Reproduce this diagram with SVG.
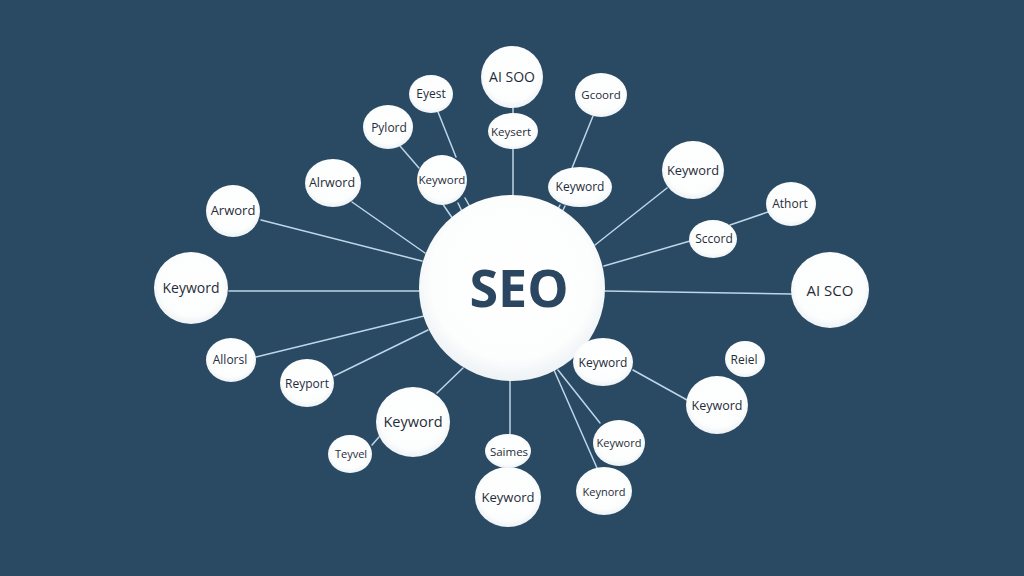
<svg xmlns="http://www.w3.org/2000/svg" width="1024" height="576" viewBox="0 0 1024 576">
<defs>
<radialGradient id="g" cx="50%" cy="45%" r="55%">
<stop offset="0" stop-color="#ffffff"/>
<stop offset="0.8" stop-color="#fcfdfd"/>
<stop offset="1" stop-color="#edf2f5"/>
</radialGradient>
<style>
.n{fill:url(#g);}
.t{font-family:"Open Sans","Noto Sans",sans-serif;fill:#1f2d3a;text-anchor:middle;}
.c line{stroke:#bcd6ea;stroke-width:1.5;stroke-linecap:round;}
</style>
</defs>
<rect width="1024" height="576" fill="#2a4962"/>
<g class="c" id="connectors">
<line x1="513" y1="195" x2="513" y2="149"/>
<line x1="513" y1="108" x2="513" y2="114"/>
<line x1="438" y1="112" x2="456" y2="157"/>
<line x1="440" y1="200" x2="455" y2="222"/>
<line x1="458" y1="203" x2="465" y2="218"/>
<line x1="465" y1="198" x2="474" y2="214"/>
<line x1="400" y1="146" x2="419" y2="168"/>
<line x1="593" y1="116" x2="572" y2="168"/>
<line x1="560" y1="205" x2="556" y2="213"/>
<line x1="565" y1="206" x2="561" y2="214"/>
<line x1="667" y1="188" x2="595" y2="245"/>
<line x1="690" y1="241" x2="604" y2="266"/>
<line x1="730" y1="225" x2="768" y2="212"/>
<line x1="605" y1="291" x2="792" y2="294"/>
<line x1="352" y1="202" x2="425" y2="253"/>
<line x1="261" y1="220" x2="422" y2="261"/>
<line x1="229" y1="291" x2="420" y2="291"/>
<line x1="256" y1="357" x2="424" y2="316"/>
<line x1="334" y1="376" x2="428" y2="330"/>
<line x1="437" y1="393" x2="463" y2="368"/>
<line x1="372" y1="445" x2="379" y2="437"/>
<line x1="510" y1="380" x2="510" y2="435"/>
<line x1="558" y1="370" x2="600" y2="423"/>
<line x1="554" y1="370" x2="597" y2="468"/>
<line x1="633" y1="370" x2="687" y2="400"/>
</g>
<g id="seo"><circle class="n" cx="512" cy="288" r="93"/><text class="t" x="519" y="307" font-size="52" font-weight="700" style="fill:#2a4660">SEO</text></g>
<g id="n1"><ellipse class="n" cx="512" cy="77" rx="31" ry="31"/><text class="t" x="512" y="82" font-size="14">AI SOO</text></g>
<g id="n2"><ellipse class="n" cx="513" cy="131" rx="25" ry="18"/><text class="t" x="511" y="136" font-size="11.5">Keysert</text></g>
<g id="n3"><ellipse class="n" cx="431" cy="94" rx="22" ry="19"/><text class="t" x="431" y="98" font-size="12">Eyest</text></g>
<g id="n4"><ellipse class="n" cx="388" cy="127" rx="25" ry="22"/><text class="t" x="389" y="132" font-size="12">Pylord</text></g>
<g id="n5"><ellipse class="n" cx="442" cy="180" rx="25" ry="25"/><text class="t" x="442" y="184" font-size="11.5">Keyword</text></g>
<g id="n6"><ellipse class="n" cx="601" cy="95" rx="26" ry="22"/><text class="t" x="601" y="99" font-size="11.5">Gcoord</text></g>
<g id="n7"><ellipse class="n" cx="580" cy="187" rx="32" ry="20"/><text class="t" x="580" y="191" font-size="12">Keyword</text></g>
<g id="n8"><ellipse class="n" cx="333" cy="183" rx="28" ry="24"/><text class="t" x="332" y="187" font-size="12.5">Alrword</text></g>
<g id="n9"><ellipse class="n" cx="233" cy="211" rx="27" ry="26"/><text class="t" x="233" y="215" font-size="13">Arword</text></g>
<g id="n10"><ellipse class="n" cx="191" cy="288" rx="37" ry="36"/><text class="t" x="191" y="293" font-size="14">Keyword</text></g>
<g id="n11"><ellipse class="n" cx="231" cy="360" rx="25" ry="22"/><text class="t" x="230" y="364" font-size="12">Allorsl</text></g>
<g id="n12"><ellipse class="n" cx="307" cy="383" rx="27" ry="24"/><text class="t" x="307" y="388" font-size="12">Reyport</text></g>
<g id="n13"><ellipse class="n" cx="413" cy="422" rx="37" ry="35"/><text class="t" x="413" y="427" font-size="14.5">Keyword</text></g>
<g id="n14"><ellipse class="n" cx="350" cy="454" rx="22" ry="19"/><text class="t" x="351" y="458" font-size="11">Teyvel</text></g>
<g id="n15"><ellipse class="n" cx="508" cy="497" rx="33" ry="30"/><text class="t" x="508" y="502" font-size="13">Keyword</text></g>
<g id="n16"><ellipse class="n" cx="508" cy="451" rx="23" ry="17"/><text class="t" x="509" y="456" font-size="11.5">Saimes</text></g>
<g id="n17"><ellipse class="n" cx="603" cy="362" rx="30" ry="24"/><text class="t" x="603" y="367" font-size="12">Keyword</text></g>
<g id="n18"><ellipse class="n" cx="619" cy="443" rx="26" ry="23"/><text class="t" x="619" y="447" font-size="11">Keyword</text></g>
<g id="n19"><ellipse class="n" cx="604" cy="491" rx="28" ry="24"/><text class="t" x="604" y="496" font-size="11">Keynord</text></g>
<g id="n20"><ellipse class="n" cx="717" cy="405" rx="31" ry="29"/><text class="t" x="717" y="410" font-size="12.5">Keyword</text></g>
<g id="n21"><ellipse class="n" cx="745" cy="359" rx="20" ry="18"/><text class="t" x="744" y="364" font-size="12">Reiel</text></g>
<g id="n22"><ellipse class="n" cx="830" cy="290" rx="39" ry="38"/><text class="t" x="830" y="296" font-size="15">AI SCO</text></g>
<g id="n23"><ellipse class="n" cx="713" cy="239" rx="24" ry="19"/><text class="t" x="714" y="243" font-size="12">Sccord</text></g>
<g id="n24"><ellipse class="n" cx="791" cy="204" rx="25" ry="22"/><text class="t" x="790" y="208" font-size="12">Athort</text></g>
<g id="n25"><ellipse class="n" cx="693" cy="170" rx="31" ry="29"/><text class="t" x="693" y="175" font-size="12.8">Keyword</text></g>
</svg>
